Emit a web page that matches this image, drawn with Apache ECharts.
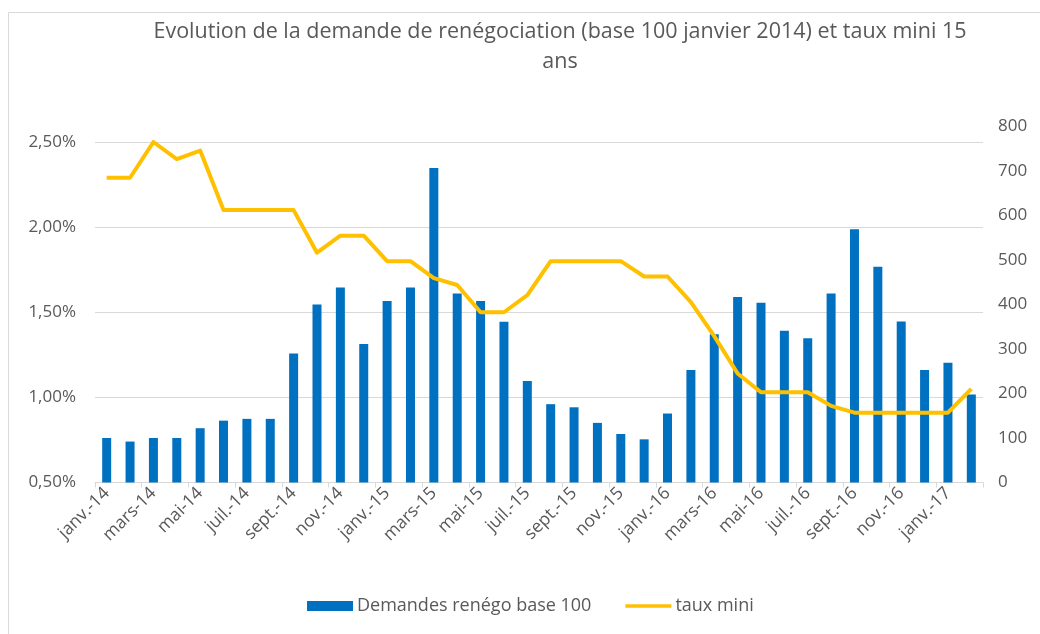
<!DOCTYPE html>
<html>
<head>
<meta charset="utf-8">
<script src="https://cdn.jsdelivr.net/npm/echarts@6/dist/echarts.min.js"></script>
<style>
html,body{margin:0;padding:0;background:#fff;}
#c{width:1040px;height:634px;}
</style>
</head>
<body>
<div id="c"></div>
<script>
const categories = [
  'janv.-14','févr.-14','mars-14','avr.-14','mai-14','juin-14','juil.-14','août-14','sept.-14','oct.-14','nov.-14','déc.-14',
  'janv.-15','févr.-15','mars-15','avr.-15','mai-15','juin-15','juil.-15','août-15','sept.-15','oct.-15','nov.-15','déc.-15',
  'janv.-16','févr.-16','mars-16','avr.-16','mai-16','juin-16','juil.-16','août-16','sept.-16','oct.-16','nov.-16','déc.-16',
  'janv.-17','févr.-17'
];
const demandes = [
  100, 92, 100, 100, 122, 139, 143, 143, 290, 400, 438, 311,
  408, 438, 707, 425, 408, 361, 228, 176, 169, 134, 109, 97,
  155, 253, 333, 417, 404, 341, 324, 425, 569, 485, 362, 253,
  269, 198
];
const tauxMini = [
  2.29, 2.29, 2.50, 2.40, 2.45, 2.10, 2.10, 2.10, 2.10, 1.85, 1.95, 1.95,
  1.80, 1.80, 1.70, 1.66, 1.50, 1.50, 1.60, 1.80, 1.80, 1.80, 1.80, 1.71,
  1.71, 1.56, 1.36, 1.14, 1.03, 1.03, 1.03, 0.95, 0.91, 0.91, 0.91, 0.91,
  0.91, 1.05
];
const seriesNames = ['Demandes renégo base 100', 'taux mini'];
const titleLines = ['Evolution de la demande de renégociation (base 100 janvier 2014) et taux mini 15', 'ans'];

const FONT = 'Open Sans';
const GREY = '#595959';
const chart = echarts.init(document.getElementById('c'), null, {renderer: 'canvas'});
chart.setOption({
  animation: false,
  textStyle: {fontFamily: FONT},
  graphic: [
    {type: 'rect', shape: {x: 8.5, y: 12.5, width: 1100, height: 700}, style: {fill: 'none', stroke: '#D9D9D9', lineWidth: 1}, silent: true},
    {type: 'text', x: 560, y: 32, style: {text: titleLines[0], fontFamily: FONT, fontSize: 21.5, fill: GREY, align: 'center', verticalAlign: 'middle'}},
    {type: 'text', x: 560, y: 62, style: {text: titleLines[1], fontFamily: FONT, fontSize: 21.5, fill: GREY, align: 'center', verticalAlign: 'middle'}}
  ],
  legend: {
    left: 307, top: 597, padding: 0,
    itemWidth: 46, itemHeight: 10, itemGap: 34,
    textStyle: {fontFamily: FONT, fontSize: 18, color: GREY, padding: [0, 0, 0, -1]},
    data: [
      {name: seriesNames[0], icon: 'rect'},
      {name: seriesNames[1], icon: 'path://M0,0L0,0M0,3L50,3L50,7L0,7ZM50,10L50,10', itemStyle: {color: '#FFC000'}}
    ]
  },
  grid: [
    {left: 95, right: 57, top: 142, height: 340.5},
    {left: 95, right: 57, top: 126.5, height: 356}
  ],
  xAxis: [
    {
      type: 'category', gridIndex: 0, data: categories, boundaryGap: true,
      axisLine: {lineStyle: {color: '#D9D9D9', width: 1}},
      axisTick: {show: true, interval: 1, length: 5, lineStyle: {color: '#D9D9D9'}},
      axisLabel: {interval: 1, rotate: 45, fontSize: 17.5, color: GREY, fontFamily: FONT, margin: 8},
      splitLine: {show: false}
    },
    {
      type: 'category', gridIndex: 1, data: categories, boundaryGap: true, show: false
    }
  ],
  yAxis: [
    {
      type: 'value', gridIndex: 0, min: 0.5, max: 2.5, interval: 0.5, position: 'left',
      axisLine: {show: false}, axisTick: {show: false},
      axisLabel: {fontSize: 17, color: GREY, fontFamily: FONT, margin: 19,
        formatter: v => v.toFixed(2).replace('.', ',') + '%'},
      splitLine: {show: true, lineStyle: {color: '#D9D9D9', width: 1}}
    },
    {
      type: 'value', gridIndex: 1, min: 0, max: 800, interval: 100, position: 'right',
      axisLine: {show: false}, axisTick: {show: false},
      axisLabel: {fontSize: 17, color: GREY, fontFamily: FONT, margin: 15},
      splitLine: {show: false}
    }
  ],
  series: [
    {
      name: seriesNames[0], type: 'bar', xAxisIndex: 1, yAxisIndex: 1,
      data: demandes, barWidth: 9,
      itemStyle: {color: '#0070C0'}, z: 2
    },
    {
      name: seriesNames[1], type: 'line', xAxisIndex: 0, yAxisIndex: 0,
      data: tauxMini, symbol: 'none', smooth: false,
      lineStyle: {color: '#FFC000', width: 4, join: 'round'},
      itemStyle: {color: '#FFC000'}, z: 5
    }
  ]
});
</script>
</body>
</html>
